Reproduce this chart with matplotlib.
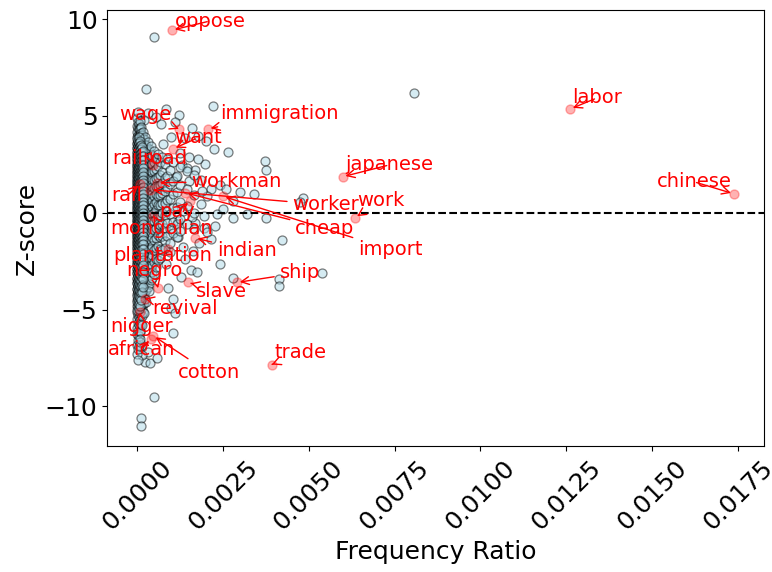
import matplotlib
matplotlib.use("Agg")
import matplotlib.pyplot as plt

# highlighted words (frequency ratio, z-score)
words = ["oppose", "labor", "chinese", "japanese", "work", "immigration", "wage",
         "want", "railroad", "rail", "workman", "worker", "cheap", "import", "pay",
         "mongolian", "indian", "plantation", "negro", "slave", "ship", "revival",
         "nigger", "african", "cotton", "trade"]
word_x = [0.00102, 0.01262, 0.01738, 0.00599, 0.00634, 0.00206, 0.00122,
          0.00105, 0.00047, 0.00009, 0.00058, 0.00038, 0.00140, 0.00250, 0.00155,
          0.00047, 0.00168, 0.00090, 0.00061, 0.00148, 0.00291, 0.00023,
          0.00009, 0.00040, 0.00047, 0.00392]
word_z = [9.43, 5.36, 0.98, 1.86, -0.26, 4.33, 4.33,
          3.30, 2.47, 1.50, 1.55, 1.19, 1.03, 0.85, 0.60,
          -0.15, -1.30, -1.85, -3.90, -3.60, -3.60, -4.43,
          -5.15, -6.50, -6.35, -7.84]

# where the labels sit (text centres, data units)
label_x = [0.00212, 0.01340, 0.01622, 0.00735, 0.00709, 0.00413, 0.00023,
           0.00177, 0.00038, -0.00029, 0.00290, 0.00550, 0.00547, 0.00738, 0.00116,
           0.00070, 0.00320, 0.00073, 0.00049, 0.00247, 0.00474, 0.00140,
           0.00012, 0.00012, 0.00209, 0.00477]
label_y = [9.90, 5.93, 1.60, 2.47, 0.62, 5.10, 5.05,
           3.87, 2.78, 0.88, 1.60, 0.41, -0.82, -1.90, 0.05,
           -0.82, -1.96, -2.20, -3.00, -4.07, -3.10, -4.95,
           -5.88, -7.06, -8.25, -7.22]

# sparse points away from the core
other_x = [0.00049, 0.00026, 0.00808, 0.00221, 0.00122, 0.00084, 0.00032, 0.00055,
           0.00177, 0.00224, 0.00265, 0.00198, 0.00372, 0.00375, 0.00099, 0.00140,
           0.00125, 0.00150, 0.00170, 0.00185, 0.00215, 0.00240, 0.00340, 0.00483,
           0.00474, 0.00375, 0.00279, 0.00320, 0.00233, 0.00422, 0.00540, 0.00413,
           0.00413, 0.00279, 0.00241, 0.00215, 0.00157, 0.00174, 0.00090, 0.00105,
           0.00099, 0.00110, 0.00105, 0.00012, 0.00032, 0.00023, 0.00038, 0.00058,
           0.00015, 0.00049, 0.00012, 0.00012, 0.00195, 0.00203, 0.00180, 0.00163,
           0.00140, 0.00195, 0.00250, 0.00280, 0.00300, 0.00260, 0.00160, 0.00200,
           0.00070, 0.00020, 0.00110, 0.00130, 0.00118, 0.00135, 0.00085, 0.00075,
           0.00150, 0.00185, 0.00205, 0.00135, 0.00170, 0.00120, 0.00190, 0.00228,
           0.00145, 0.00112, 0.00178, 0.00095, 0.00160, 0.00128]
other_z = [9.07, 6.40, 6.19, 5.50, 5.05, 5.36, 5.15, 4.95,
           3.97, 3.30, 3.14, 2.50, 2.65, 2.20, 3.90, 3.85,
           3.10, 2.90, 2.20, 1.70, 1.25, 1.45, 0.98, 0.77,
           0.57, -0.26, -0.26, -0.05, -0.05, -1.39, -3.10, -3.40,
           -3.80, -3.36, -2.63, -1.35, -2.94, -3.04, -3.90, -4.43,
           -4.90, -5.20, -6.20, -6.90, -7.20, -7.70, -7.75, -7.50,
           -7.35, -9.50, -10.60, -11.03, -0.80, -1.00, -1.55, -2.00,
           -2.40, -0.15, 0.20, 0.60, 1.05, 1.20, 4.40, 3.70,
           4.60, 4.80, 4.70, 2.45, -0.45, -1.75, -2.65, 3.55,
           1.62, 0.45, 0.85, 0.10, -0.55, -1.25, 1.10, -0.70,
           2.30, 1.85, 2.75, -2.05, -0.20, -3.30]

# core near zero, one list of z-scores per frequency column
core_x = [0.00001, 0.00003, 0.00005, 0.00007, 0.00009, 0.00011, 0.00014,
          0.00017, 0.00020, 0.00024, 0.00027, 0.00031, 0.00035, 0.00040,
          0.00044, 0.00050, 0.00054, 0.00061, 0.00066, 0.00073, 0.00080,
          0.00088, 0.00096, 0.00105, 0.00115, 0.00125, 0.00145, 0.00165]
core_z = [
    [4.9, 4.5, 4.15, 3.9, 3.6, 3.35, 3.1, 2.92, 2.7, 2.48, 2.3, 2.12, 1.9, 1.76,
     1.6, 1.43, 1.31, 1.14, 0.98, 0.86, 0.7, 0.53, 0.41, 0.24, 0.1, -0.06, -0.19,
     -0.36, -0.49, -0.66, -0.81, -0.94, -1.12, -1.24, -1.41, -1.56, -1.72, -1.88,
     -2.11, -2.29, -2.52, -2.68, -2.93, -3.13, -3.42, -3.63, -3.92, -4.18, -4.52,
     -4.79, -5.12, -5.48, -5.93, -6.28, -6.82, -7.31],
    [5.2, 4.7, 4.35, 4.02, 3.77, 3.5, 3.24, 3.0, 2.8, 2.6, 2.4, 2.21, 2.01, 1.83,
     1.68, 1.52, 1.37, 1.22, 1.07, 0.92, 0.78, 0.62, 0.48, 0.32, 0.17, 0.02,
     -0.12, -0.27, -0.43, -0.57, -0.73, -0.88, -1.04, -1.18, -1.33, -1.48, -1.63,
     -1.8, -1.99, -2.2, -2.4, -2.6, -2.81, -3.03, -3.27, -3.52, -3.78, -4.05,
     -4.34, -4.64, -4.95, -5.3, -5.7, -6.1, -6.55, -7.05, -7.6],
    [4.6, 4.3, 3.98, 3.72, 3.44, 3.2, 2.98, 2.78, 2.57, 2.39, 2.2, 2.03, 1.84,
     1.68, 1.52, 1.37, 1.22, 1.06, 0.92, 0.77, 0.62, 0.47, 0.33, 0.17, 0.03,
     -0.13, -0.28, -0.42, -0.58, -0.73, -0.88, -1.03, -1.18, -1.33, -1.49, -1.64,
     -1.81, -2.0, -2.2, -2.41, -2.61, -2.82, -3.04, -3.28, -3.55, -3.8, -4.08,
     -4.37, -4.68, -5.02, -5.38, -5.81, -6.35, -6.9],
    [4.75, 4.4, 4.08, 3.8, 3.52, 3.28, 3.05, 2.84, 2.64, 2.44, 2.25, 2.07, 1.9,
     1.72, 1.56, 1.4, 1.25, 1.1, 0.95, 0.8, 0.66, 0.5, 0.36, 0.2, 0.05, -0.1,
     -0.25, -0.4, -0.55, -0.7, -0.85, -1.0, -1.15, -1.3, -1.46, -1.62, -1.78,
     -1.96, -2.15, -2.35, -2.56, -2.77, -3.0, -3.23, -3.48, -3.74, -4.02, -4.3,
     -4.62, -4.95, -5.3, -5.7, -6.15, -6.7],
    [4.3, 3.94, 3.66, 3.38, 3.13, 2.9, 2.66, 2.46, 2.27, 2.08, 1.9, 1.73, 1.56,
     1.41, 1.25, 1.1, 0.95, 0.8, 0.66, 0.51, 0.36, 0.21, 0.07, -0.09, -0.24,
     -0.39, -0.55, -0.7, -0.86, -1.02, -1.19, -1.36, -1.55, -1.74, -1.96, -2.18,
     -2.42, -2.66, -2.93, -3.2, -3.5, -3.83, -4.2, -4.6, -5.05, -5.55, -6.1, -6.5],
    [4.45, 4.1, 3.8, 3.52, 3.26, 3.02, 2.79, 2.58, 2.37, 2.17, 1.99, 1.81, 1.64,
     1.48, 1.32, 1.17, 1.02, 0.87, 0.73, 0.58, 0.43, 0.29, 0.14, -0.01, -0.16,
     -0.31, -0.47, -0.62, -0.78, -0.94, -1.11, -1.28, -1.46, -1.65, -1.85, -2.07,
     -2.3, -2.54, -2.79, -3.06, -3.35, -3.66, -4.0, -4.38, -4.8, -5.25, -5.75],
    [4.0, 3.66, 3.36, 3.08, 2.83, 2.6, 2.37, 2.16, 1.96, 1.77, 1.59, 1.41, 1.24,
     1.06, 0.89, 0.72, 0.55, 0.38, 0.21, 0.04, -0.13, -0.31, -0.49, -0.67, -0.86,
     -1.06, -1.26, -1.48, -1.71, -1.95, -2.22, -2.5, -2.81, -3.14, -3.5, -3.92,
     -4.4, -4.9, -5.35, -5.8],
    [4.15, 3.8, 3.5, 3.22, 2.96, 2.72, 2.49, 2.27, 2.06, 1.86, 1.67, 1.49, 1.31,
     1.14, 0.97, 0.8, 0.63, 0.46, 0.29, 0.12, -0.05, -0.22, -0.4, -0.58, -0.77,
     -0.96, -1.16, -1.37, -1.6, -1.83, -2.08, -2.35, -2.64, -2.96, -3.3, -3.7,
     -4.15, -4.65, -5.1],
    [3.8, 3.42, 3.1, 2.8, 2.53, 2.28, 2.05, 1.83, 1.62, 1.41, 1.21, 1.01, 0.81,
     0.61, 0.41, 0.21, 0.01, -0.2, -0.41, -0.63, -0.86, -1.1, -1.35, -1.62,
     -1.91, -2.22, -2.56, -2.92, -3.3, -3.72, -4.18, -4.65, -5.2],
    [3.9, 3.5, 3.16, 2.86, 2.58, 2.32, 2.08, 1.85, 1.63, 1.41, 1.2, 0.99, 0.78,
     0.57, 0.36, 0.15, -0.06, -0.27, -0.49, -0.72, -0.96, -1.21, -1.48, -1.76,
     -2.06, -2.38, -2.73, -3.1, -3.52, -4.0, -4.45],
    [3.5, 3.08, 2.72, 2.4, 2.1, 1.83, 1.57, 1.32, 1.07, 0.83, 0.58, 0.34, 0.1,
     -0.15, -0.4, -0.66, -0.93, -1.22, -1.52, -1.85, -2.2, -2.58, -3.0, -3.45,
     -3.98, -4.6],
    [3.65, 3.2, 2.83, 2.5, 2.19, 1.9, 1.62, 1.35, 1.09, 0.83, 0.57, 0.31, 0.05,
     -0.21, -0.48, -0.76, -1.05, -1.36, -1.69, -2.04, -2.42, -2.84, -3.3, -3.82],
    [3.3, 2.8, 2.38, 2.02, 1.68, 1.36, 1.05, 0.75, 0.45, 0.15, -0.15, -0.46,
     -0.78, -1.12, -1.47, -1.85, -2.26, -2.7, -3.2, -3.7, -4.05],
    [3.45, 2.95, 2.52, 2.13, 1.77, 1.42, 1.08, 0.74, 0.4, 0.06, -0.29, -0.65,
     -1.02, -1.42, -1.85, -2.32, -2.85, -3.45],
    [3.0, 2.5, 2.08, 1.7, 1.34, 0.98, 0.63, 0.28, -0.08, -0.45, -0.84, -1.25,
     -1.7, -2.18, -2.72, -3.35, -3.05],
    [3.2, 2.62, 2.14, 1.7, 1.27, 0.85, 0.43, 0.0, -0.44, -0.9, -1.4, -1.93,
     -2.55, -3.15],
    [2.8, 2.25, 1.8, 1.38, 0.96, 0.55, 0.12, -0.32, -0.78, -1.28, -1.82, -2.4,
     -2.82],
    [3.05, 2.4, 1.86, 1.37, 0.88, 0.4, -0.1, -0.6, -1.14, -1.72, -2.45],
    [2.6, 1.95, 1.42, 0.92, 0.42, -0.1, -0.65, -1.25, -1.88, -2.32],
    [2.9, 2.12, 1.55, 1.02, 0.5, -0.03, -0.58, -1.18, -1.95],
    [2.5, 1.78, 1.14, 0.52, -0.12, -0.8, -1.48, -1.82],
    [2.75, 1.9, 1.3, 0.68, 0.08, -0.55, -1.2],
    [2.2, 1.46, 0.72, -0.04, -0.86, -1.55],
    [2.6, 1.65, 0.95, 0.25, -0.48, -1.05],
    [1.9, 1.08, 0.28, -0.6, -1.25],
    [2.35, 1.42, 0.55, -0.3, -0.95],
    [2.15, 1.2, 0.35, -0.6],
    [1.95, 0.9, 0.0, -0.85],
]

# the very dense part right at zero frequency
dense_x = [0.00000, 0.00002, 0.00004, 0.00006, 0.00008, 0.00010, 0.00013, 0.00016]
dense_z = [
    [3.8, 3.55, 3.33, 3.12, 2.95, 2.77, 2.58, 2.41, 2.23, 2.05, 1.88, 1.7, 1.53,
     1.35, 1.18, 1.01, 0.83, 0.66, 0.48, 0.31, 0.13, -0.04, -0.22, -0.39, -0.57,
     -0.74, -0.92, -1.09, -1.27, -1.45, -1.63, -1.82, -2.01, -2.22, -2.43, -2.65,
     -2.88, -3.12, -3.38, -3.65, -3.95, -4.28, -4.62, -5.0],
    [3.68, 3.44, 3.22, 3.03, 2.86, 2.67, 2.5, 2.32, 2.14, 1.96, 1.79, 1.61, 1.44,
     1.27, 1.09, 0.92, 0.75, 0.57, 0.39, 0.22, 0.05, -0.13, -0.3, -0.48, -0.65,
     -0.83, -1.0, -1.18, -1.36, -1.54, -1.72, -1.91, -2.11, -2.32, -2.54, -2.76,
     -3.0, -3.25, -3.51, -3.8, -4.11, -4.45, -4.82],
    [3.9, 3.62, 3.38, 3.17, 2.99, 2.81, 2.62, 2.45, 2.27, 2.1, 1.92, 1.75, 1.57,
     1.4, 1.22, 1.05, 0.88, 0.7, 0.53, 0.35, 0.18, 0.0, -0.17, -0.35, -0.52, -0.7,
     -0.87, -1.05, -1.23, -1.41, -1.59, -1.78, -1.97, -2.17, -2.38, -2.6, -2.83,
     -3.07, -3.33, -3.6, -3.9, -4.22, -4.56, -4.95],
    [3.6, 3.36, 3.15, 2.96, 2.78, 2.6, 2.43, 2.25, 2.07, 1.9, 1.72, 1.55, 1.37,
     1.2, 1.03, 0.85, 0.68, 0.5, 0.33, 0.15, -0.02, -0.2, -0.37, -0.55, -0.72,
     -0.9, -1.07, -1.25, -1.43, -1.61, -1.8, -2.0, -2.2, -2.42, -2.64, -2.88,
     -3.13, -3.4, -3.68, -3.98, -4.32, -4.7],
    [3.72, 3.47, 3.25, 3.05, 2.88, 2.7, 2.52, 2.35, 2.17, 2.0, 1.82, 1.65, 1.47,
     1.3, 1.13, 0.95, 0.78, 0.6, 0.43, 0.26, 0.08, -0.09, -0.27, -0.44, -0.62,
     -0.79, -0.97, -1.14, -1.32, -1.5, -1.69, -1.88, -2.08, -2.29, -2.51, -2.73,
     -2.97, -3.22, -3.49, -3.78, -4.08, -4.42, -4.8],
    [3.5, 3.27, 3.06, 2.87, 2.69, 2.51, 2.33, 2.16, 1.98, 1.8, 1.63, 1.46, 1.28,
     1.11, 0.94, 0.76, 0.59, 0.41, 0.24, 0.07, -0.11, -0.28, -0.46, -0.63, -0.81,
     -0.98, -1.16, -1.34, -1.52, -1.71, -1.9, -2.1, -2.31, -2.53, -2.76, -3.0,
     -3.26, -3.54, -3.84, -4.17, -4.52],
    [3.4, 3.15, 2.93, 2.73, 2.54, 2.35, 2.17, 1.99, 1.81, 1.63, 1.45, 1.27, 1.1,
     0.92, 0.74, 0.56, 0.39, 0.21, 0.03, -0.15, -0.33, -0.51, -0.69, -0.87,
     -1.06, -1.25, -1.44, -1.64, -1.85, -2.07, -2.3, -2.54, -2.8, -3.08, -3.38,
     -3.72, -4.1],
    [3.2, 2.93, 2.7, 2.49, 2.29, 2.09, 1.9, 1.71, 1.52, 1.33, 1.14, 0.95, 0.76,
     0.57, 0.38, 0.19, 0.0, -0.19, -0.38, -0.58, -0.78, -0.98, -1.19, -1.41,
     -1.64, -1.88, -2.14, -2.42, -2.72, -3.05, -3.42, -3.85],
]

fig, ax = plt.subplots(figsize=(7.72, 5.72), dpi=100)
fig.subplots_adjust(left=0.139, right=0.989, top=0.982, bottom=0.22)

# flatten the column lists
all_x = list(other_x)
all_z = list(other_z)
for cx, zs in list(zip(core_x, core_z)) + list(zip(dense_x, dense_z)):
    all_x += [cx] * len(zs)
    all_z += zs

ax.scatter(all_x, all_z, s=42, c="lightblue", edgecolors="black",
           linewidths=0.9, alpha=0.5)
ax.scatter(word_x, word_z, s=42, c="red", alpha=0.3)

for w, x, z, tx, ty in zip(words, word_x, word_z, label_x, label_y):
    ax.annotate(w, xy=(x, z), xytext=(tx, ty), color="red", fontsize=14,
                ha="center", va="center",
                arrowprops=dict(arrowstyle="->", color="red", lw=1))

ax.axhline(0, color="black", linestyle="--", linewidth=1.5)

ax.set_xlabel("Frequency Ratio", fontsize=18)
ax.set_ylabel("Z-score", fontsize=18)
ax.tick_params(axis="both", labelsize=18)
ax.tick_params(axis="x", labelrotation=45)

plt.savefig("out.png", dpi=100)
